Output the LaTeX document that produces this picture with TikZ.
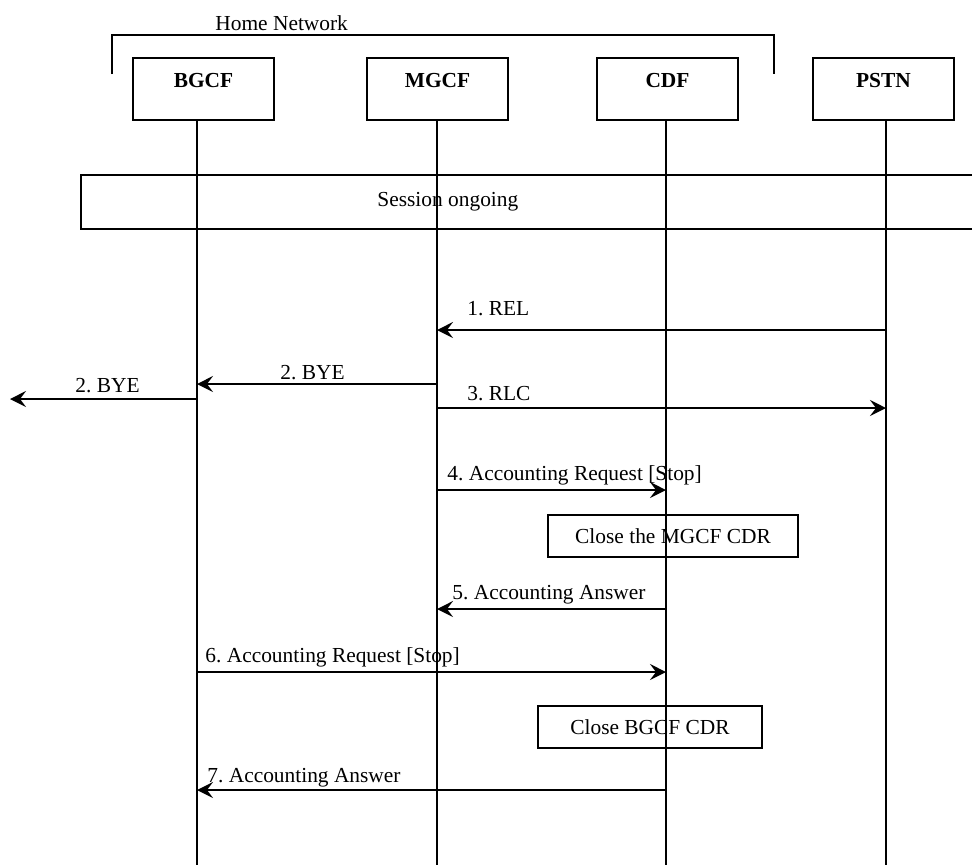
\documentclass[tikz,border=0pt]{standalone}
\usepackage{fontspec}
\setmainfont{Liberation Serif}
\usetikzlibrary{arrows.meta, positioning}

\newcommand{\msgfont}{\fontsize{10.7}{12.8}\selectfont}
\frenchspacing

\begin{document}
\begin{tikzpicture}[x=0.5pt, y=-0.5pt,
  ent/.style={draw, line width=0.9pt, anchor=north, minimum width=70.5pt,
    inner ysep=0pt, text height=15pt, text depth=16pt, font=\msgfont\bfseries},
  act/.style={draw, line width=0.9pt, minimum height=21pt, inner sep=0pt, font=\msgfont},
  lbl/.style={anchor=base west, inner sep=0pt, font=\msgfont},
  life/.style={line width=0.9pt},
  msg/.style={line width=0.9pt, -{Stealth[length=8pt, width=8pt, inset=3pt]}}]
\useasboundingbox (0,0) rectangle (972,864);

% entities
\node[ent] (bgcf) at (203.5,57) {BGCF};
\node[ent] (mgcf) at (437.5,57) {MGCF};
\node[ent] (cdf) at (667.5,57) {CDF};
\node[ent] (pstn) at (883.5,57) {PSTN};

\coordinate (bgcfx) at ([xshift=-3.25pt]bgcf.south);
\coordinate (mgcfx) at ([xshift=-0.25pt]mgcf.south);
\coordinate (cdfx) at ([xshift=-0.75pt]cdf.south);
\coordinate (pstnx) at ([xshift=1.25pt]pstn.south);
\coordinate (bottom) at (0,866);

\draw[life] (bgcfx) -- (bgcfx |- bottom);
\draw[life] (mgcfx) -- (mgcfx |- bottom);
\draw[life] (cdfx) -- (cdfx |- bottom);
\draw[life] (pstnx) -- (pstnx |- bottom);

% home network bracket
\draw[life] (112,74) |- (774,35) -- (774,74);
\node[lbl] (home) at (215,30) {Home Network};

% session ongoing
\draw[life] (976,175) -| (81,229) -- (976,229);
\node[lbl] (sess) at (377,206) {Session ongoing};

% message rows
\coordinate (r1) at (0,330);
\coordinate (r2) at (0,384);
\coordinate (r2b) at (0,399);
\coordinate (r3) at (0,408);
\coordinate (r4) at (0,490);
\coordinate (r5) at (0,609);
\coordinate (r6) at (0,672);
\coordinate (r7) at (0,790);
\coordinate (ext) at (10,399);

\draw[msg] (pstnx |- r1) -- (mgcfx |- r1);
\node[lbl] (m1) at (467,315) {1. REL};
\draw[msg] (mgcfx |- r2) -- (bgcfx |- r2);
\node[lbl] (m2) at (280,379) {2. BYE};
\draw[msg] (bgcfx |- r2b) -- (ext);
\node[lbl] (m2b) at (75,392) {2. BYE};
\draw[msg] (mgcfx |- r3) -- (pstnx |- r3);
\node[lbl] (m3) at (467,400) {3. RLC};
\draw[msg] (mgcfx |- r4) -- (cdfx |- r4);
\node[lbl] (m4) at (447,480) {4. Accounting Request [Stop]};

\node[act, minimum width=125pt] (closem) at (673,536) {Close the MGCF CDR};

\draw[msg] (cdfx |- r5) -- (mgcfx |- r5);
\node[lbl] (m5) at (452,599) {5. Accounting Answer};
\draw[msg] (bgcfx |- r6) -- (cdfx |- r6);
\node[lbl] (m6) at (205,662) {6. Accounting Request [Stop]};

\node[act, minimum width=112pt] (closeb) at (650,727) {Close BGCF CDR};

\draw[msg] (cdfx |- r7) -- (bgcfx |- r7);
\node[lbl] (m7) at (207,782) {7. Accounting Answer};
\end{tikzpicture}
\end{document}
